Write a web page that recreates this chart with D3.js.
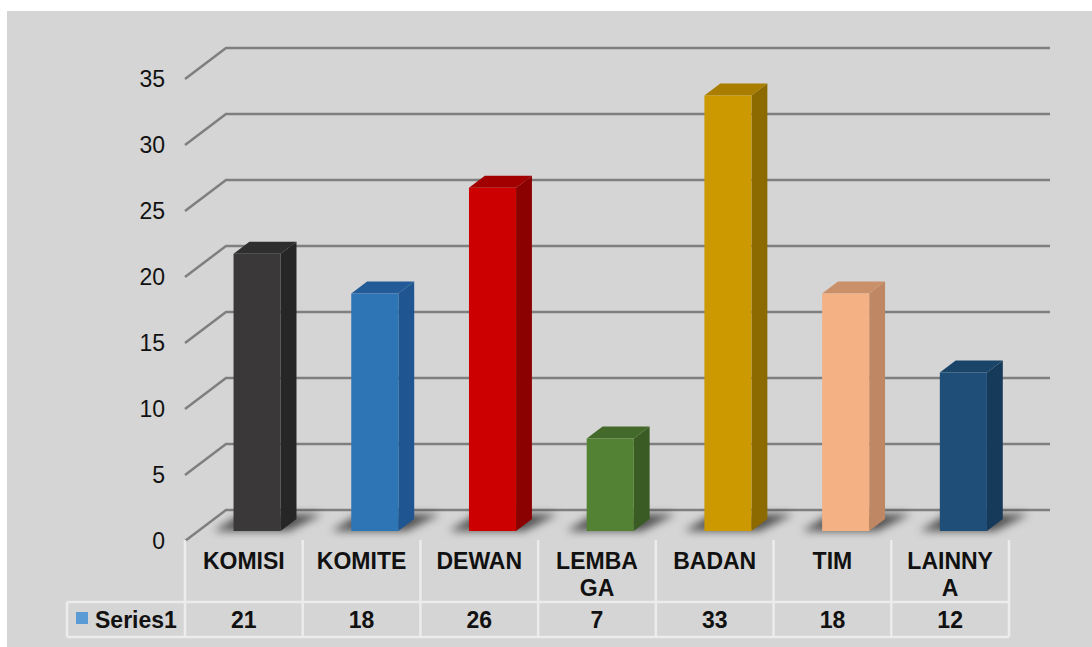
<!DOCTYPE html>
<html>
<head>
<meta charset="utf-8">
<script src="https://cdn.jsdelivr.net/npm/d3@7"></script>
<style>
  html, body { margin: 0; padding: 0; background: #ffffff; }
  svg { display: block; }
  text { font-family: "Liberation Sans", Arial, sans-serif; fill: #111; }
</style>
</head>
<body>
<svg id="chart" width="1092" height="647"></svg>
<script>
// Data
const categories = ["KOMISI", "KOMITE", "DEWAN", "LEMBAGA", "BADAN", "TIM", "LAINNYA"];
const values = [21, 18, 26, 7, 33, 18, 12];
const seriesName = "Series1";
const yTicks = [0, 5, 10, 15, 20, 25, 30, 35];

// Bar colours: front, side, top
const barFront = ["#3a3838", "#2e75b6", "#cc0000", "#548235", "#cc9900", "#f4b183", "#1f4e79"];
const barSide  = ["#272626", "#1f5590", "#8b0000", "#3a5c24", "#8c6a00", "#bf8763", "#163a5a"];
const barTop   = ["#2f2e2e", "#225b98", "#a20000", "#446a2b", "#a87d00", "#c9906a", "#1a4468"];

const svg = d3.select("#chart");
const W = 1092, H = 647;

// Back wall plane scales
const x = d3.scaleBand().domain(categories).range([226, 1050])
  .paddingInner(0.6).paddingOuter(0.3);
const y = d3.scaleLinear().domain([0, 35]).range([510, 48]);

// Oblique depth: depth 0 = back wall, depth 1 = front edge of floor
const DX = -41, DY = 31;
const proj = (px, v, depth) => [px + DX * depth, y(v) + DY * depth];
const BAR_FRONT = 21 / 31, BAR_BACK = 9 / 31;

// Background panel
svg.append("rect").attr("x", 7).attr("y", 11).attr("width", W - 7).attr("height", H - 11)
  .attr("fill", "#d5d5d5");

// Gridlines on back wall, plus the oblique edge on the side
const grid = svg.append("g").attr("stroke", "#7f7f7f").attr("stroke-width", 2.5).attr("fill", "none");
yTicks.forEach(t => {
  const [fx, fy] = proj(x.range()[0], t, 1);
  grid.append("path")
    .attr("d", `M${fx},${fy}L${x.range()[0]},${y(t)}L${x.range()[1]},${y(t)}`);
});

// Y tick labels at the front edge
svg.append("g").selectAll("text").data(yTicks).join("text")
  .attr("x", 165).attr("y", d => proj(0, d, 1)[1])
  .attr("text-anchor", "end").attr("dominant-baseline", "central")
  .attr("font-size", 23).attr("fill", "#1a1a1a")
  .text(d => d);

// Soft floor shadows
const defs = svg.append("defs");
defs.append("filter").attr("id", "soft").attr("x", "-50%").attr("y", "-50%")
  .attr("width", "200%").attr("height", "200%")
  .append("feGaussianBlur").attr("stdDeviation", 4.5);

const shadows = svg.append("g").attr("filter", "url(#soft)");
categories.forEach((c, i) => {
  const x0 = x(c), x1 = x(c) + x.bandwidth();
  const [ax, ay] = proj(x0, 0, BAR_FRONT);
  const [bx, by] = proj(x1, 0, BAR_FRONT);
  const [cx, cy] = proj(x1, 0, BAR_BACK);
  const [dx, dy] = proj(x0, 0, BAR_BACK);
  shadows.append("path")
    .attr("d", `M${ax - 20},${ay}L${bx + 8},${by}L${cx + 26},${cy - 5}L${dx - 8},${dy - 5}Z`)
    .attr("fill", "#000").attr("opacity", 0.62);
});

// 3D bars
const bars = svg.append("g");
categories.forEach((c, i) => {
  const v = values[i];
  const x0 = x(c), x1 = x(c) + x.bandwidth();
  const fbl = proj(x0, 0, BAR_FRONT), fbr = proj(x1, 0, BAR_FRONT);
  const ftl = proj(x0, v, BAR_FRONT), ftr = proj(x1, v, BAR_FRONT);
  const btl = proj(x0, v, BAR_BACK), btr = proj(x1, v, BAR_BACK);
  const bbr = proj(x1, 0, BAR_BACK);
  const g = bars.append("g");
  // side face
  g.append("path").attr("d", `M${fbr}L${ftr}L${btr}L${bbr}Z`).attr("fill", barSide[i]);
  // top face
  g.append("path").attr("d", `M${ftl}L${ftr}L${btr}L${btl}Z`).attr("fill", barTop[i]);
  // front face
  g.append("path").attr("d", `M${fbl}L${fbr}L${ftr}L${ftl}Z`).attr("fill", barFront[i]);
});

// Data table under the plot
const colL = proj(x.range()[0], 0, 1)[0];
const colR = proj(x.range()[1], 0, 1)[0];
const step = (colR - colL) / categories.length;
const tableTop = 540, rowSplit = 602, tableBottom = 637, legendLeft = 67;
const lineCol = "#ececec";

const table = svg.append("g").attr("stroke", lineCol).attr("stroke-width", 2.5);
for (let k = 0; k <= categories.length; k++) {
  const xx = colL + k * step;
  table.append("line").attr("x1", xx).attr("x2", xx).attr("y1", tableTop).attr("y2", tableBottom);
}
table.append("line").attr("x1", legendLeft).attr("x2", colR).attr("y1", rowSplit).attr("y2", rowSplit);
table.append("line").attr("x1", legendLeft).attr("x2", colR).attr("y1", tableBottom).attr("y2", tableBottom);
table.append("line").attr("x1", legendLeft).attr("x2", legendLeft).attr("y1", rowSplit).attr("y2", tableBottom);

// Category labels, wrapped to column width
const maxW = 95;
const catText = svg.append("g").attr("font-size", 23).attr("font-weight", "bold").attr("text-anchor", "middle");
categories.forEach((c, i) => {
  const cx = colL + (i + 0.5) * step;
  const t = catText.append("text").attr("x", cx).attr("y", 569);
  // greedy character wrap
  const lines = [];
  let cur = "";
  const probe = catText.append("text").attr("visibility", "hidden");
  for (const ch of c) {
    probe.text(cur + ch);
    if (cur && probe.node().getComputedTextLength() > maxW) { lines.push(cur); cur = ch; }
    else cur += ch;
  }
  lines.push(cur);
  probe.remove();
  lines.forEach((ln, j) => {
    t.append("tspan").attr("x", cx).attr("dy", j === 0 ? 0 : 27).text(ln);
  });
});

// Value row
svg.append("g").attr("font-size", 23).attr("font-weight", "bold").attr("text-anchor", "middle")
  .selectAll("text").data(values).join("text")
  .attr("x", (d, i) => colL + (i + 0.5) * step).attr("y", 628)
  .text(d => d);

// Legend key and series name
svg.append("rect").attr("x", 76).attr("y", 612).attr("width", 12).attr("height", 12).attr("fill", "#5b9bd5");
svg.append("text").attr("x", 95).attr("y", 628).attr("font-size", 23).attr("font-weight", "bold").text(seriesName);
</script>
</body>
</html>
